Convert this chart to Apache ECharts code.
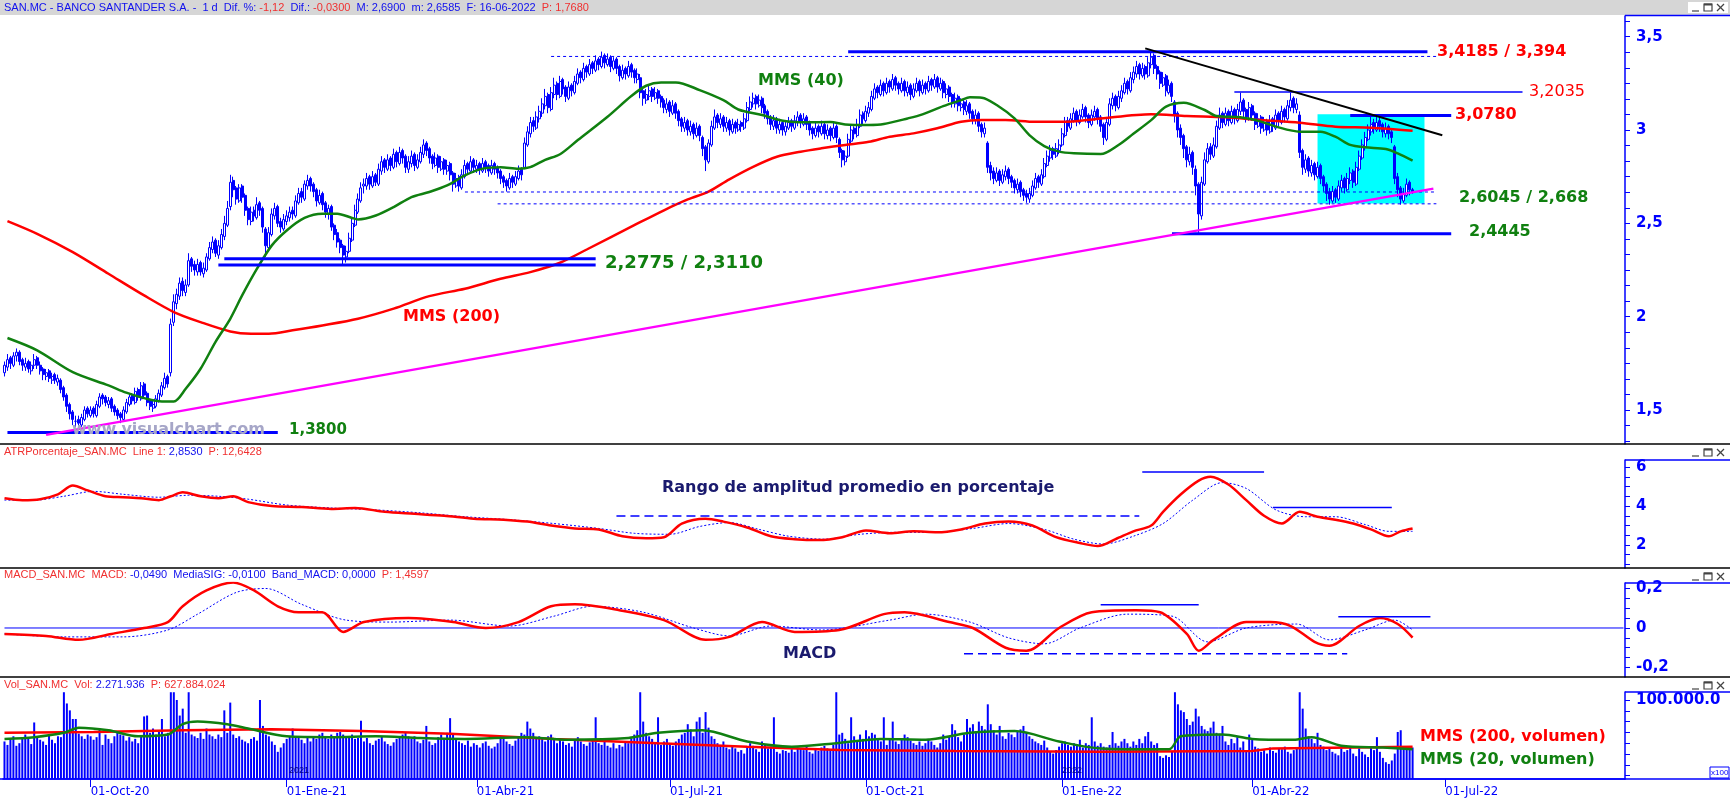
<!DOCTYPE html>
<html>
<head>
<meta charset="utf-8">
<script src="https://cdn.jsdelivr.net/npm/echarts@6/dist/echarts.min.js"></script>
<style>
  html, body { margin: 0; padding: 0; background: #fff; }
  #chart { width: 1730px; height: 799px; }
</style>
</head>
<body>
<div id="chart"></div>
<script>
// SAN.MC daily, 21-08-2020 .. 16-06-2022
// candles: [open, close, low, high], one row per trading day, grouped by month
const sanOHLC = [
  // ago-20
  [1.70,1.74,1.68,1.76],[1.73,1.77,1.71,1.80],[1.78,1.75,1.72,1.79],[1.74,1.79,1.73,1.81],[1.79,1.81,1.76,1.83],[1.81,1.76,1.74,1.82],[1.77,1.74,1.71,1.78],
  // sep-20
  [1.73,1.75,1.71,1.78],[1.76,1.72,1.70,1.77],[1.71,1.74,1.69,1.76],[1.74,1.77,1.72,1.80],[1.78,1.74,1.72,1.79],[1.74,1.71,1.69,1.76],[1.72,1.69,1.66,1.73],[1.68,1.70,1.66,1.72],[1.71,1.67,1.65,1.72],[1.66,1.68,1.64,1.70],[1.69,1.66,1.64,1.70],[1.65,1.67,1.63,1.69],[1.66,1.61,1.59,1.67],[1.62,1.57,1.55,1.63],[1.58,1.52,1.49,1.59],[1.53,1.48,1.45,1.54],[1.49,1.45,1.42,1.50],[1.44,1.44,1.41,1.47],[1.45,1.43,1.40,1.47],[1.42,1.46,1.41,1.48],[1.45,1.50,1.44,1.52],[1.51,1.48,1.46,1.52],
  // oct-20
  [1.47,1.50,1.46,1.52],[1.51,1.48,1.46,1.52],[1.47,1.53,1.46,1.55],[1.52,1.57,1.51,1.59],[1.58,1.56,1.53,1.59],[1.57,1.54,1.52,1.58],[1.53,1.55,1.51,1.57],[1.56,1.51,1.49,1.57],[1.52,1.49,1.47,1.53],[1.50,1.47,1.45,1.51],[1.48,1.46,1.43,1.49],[1.45,1.50,1.44,1.52],[1.49,1.54,1.48,1.56],[1.53,1.57,1.52,1.59],[1.58,1.55,1.53,1.59],[1.54,1.60,1.53,1.62],[1.61,1.57,1.55,1.62],[1.56,1.63,1.55,1.65],[1.64,1.58,1.56,1.65],[1.59,1.54,1.52,1.60],[1.55,1.52,1.50,1.56],[1.51,1.53,1.49,1.55],
  // nov-20
  [1.52,1.56,1.51,1.58],[1.55,1.59,1.54,1.61],[1.58,1.63,1.57,1.65],[1.62,1.67,1.61,1.70],[1.68,1.64,1.62,1.69],[1.70,1.96,1.68,1.99],[1.97,2.08,1.95,2.12],[2.07,2.12,2.04,2.15],[2.11,2.18,2.09,2.21],[2.19,2.14,2.11,2.21],[2.13,2.17,2.11,2.20],[2.17,2.30,2.16,2.34],[2.31,2.27,2.24,2.32],[2.28,2.25,2.22,2.30],[2.24,2.28,2.22,2.31],[2.29,2.24,2.22,2.30],[2.23,2.26,2.21,2.29],[2.25,2.32,2.24,2.34],[2.31,2.37,2.30,2.40],[2.36,2.40,2.34,2.43],[2.41,2.34,2.32,2.42],
  // dic-20
  [2.33,2.38,2.31,2.41],[2.37,2.44,2.36,2.47],[2.43,2.50,2.41,2.54],[2.49,2.58,2.48,2.62],[2.59,2.72,2.57,2.76],[2.73,2.68,2.64,2.75],[2.69,2.63,2.60,2.70],[2.62,2.69,2.61,2.71],[2.70,2.64,2.61,2.71],[2.65,2.57,2.54,2.66],[2.58,2.52,2.49,2.59],[2.51,2.56,2.49,2.59],[2.57,2.54,2.51,2.59],[2.53,2.60,2.52,2.64],[2.61,2.57,2.54,2.62],[2.58,2.48,2.45,2.59],[2.47,2.38,2.32,2.48],[2.37,2.45,2.36,2.48],[2.44,2.55,2.43,2.58],[2.54,2.58,2.52,2.61],[2.59,2.50,2.48,2.60],[2.51,2.48,2.45,2.53],[2.47,2.52,2.46,2.55],
  // ene-21
  [2.51,2.54,2.49,2.57],[2.53,2.56,2.51,2.59],[2.57,2.55,2.52,2.59],[2.54,2.62,2.53,2.65],[2.61,2.66,2.60,2.69],[2.67,2.64,2.61,2.69],[2.63,2.71,2.62,2.73],[2.70,2.73,2.68,2.76],[2.74,2.70,2.67,2.75],[2.71,2.67,2.64,2.72],[2.68,2.62,2.59,2.69],[2.61,2.65,2.60,2.68],[2.66,2.60,2.57,2.67],[2.61,2.56,2.53,2.62],[2.55,2.58,2.52,2.60],[2.59,2.48,2.46,2.60],[2.49,2.44,2.41,2.50],[2.45,2.40,2.37,2.47],[2.41,2.37,2.34,2.42],[2.38,2.33,2.28,2.39],[2.32,2.35,2.29,2.38],
  // feb-21
  [2.35,2.42,2.34,2.45],[2.41,2.50,2.40,2.53],[2.49,2.57,2.48,2.60],[2.56,2.63,2.55,2.66],[2.62,2.69,2.61,2.72],[2.70,2.71,2.66,2.74],[2.70,2.74,2.68,2.77],[2.75,2.71,2.68,2.76],[2.70,2.75,2.69,2.78],[2.76,2.72,2.70,2.77],[2.71,2.79,2.70,2.82],[2.78,2.83,2.76,2.86],[2.84,2.80,2.77,2.85],[2.79,2.84,2.78,2.87],[2.85,2.81,2.78,2.86],[2.80,2.87,2.79,2.90],[2.88,2.83,2.80,2.89],[2.82,2.88,2.81,2.91],[2.89,2.85,2.82,2.90],[2.86,2.80,2.77,2.87],
  // mar-21
  [2.79,2.83,2.77,2.86],[2.82,2.86,2.80,2.89],[2.87,2.81,2.78,2.88],[2.80,2.84,2.79,2.87],[2.83,2.88,2.82,2.91],[2.87,2.92,2.85,2.95],[2.93,2.89,2.86,2.94],[2.90,2.85,2.82,2.91],[2.86,2.82,2.79,2.87],[2.81,2.85,2.80,2.88],[2.86,2.80,2.77,2.87],[2.79,2.83,2.78,2.86],[2.84,2.79,2.76,2.85],[2.78,2.81,2.76,2.84],[2.82,2.76,2.73,2.83],[2.77,2.71,2.67,2.78],[2.70,2.74,2.69,2.77],[2.75,2.70,2.67,2.76],[2.69,2.76,2.68,2.79],[2.75,2.81,2.74,2.84],[2.82,2.79,2.76,2.83],[2.78,2.83,2.77,2.86],[2.84,2.80,2.77,2.85],
  // abr-21
  [2.79,2.81,2.77,2.84],[2.82,2.79,2.76,2.83],[2.78,2.82,2.77,2.85],[2.83,2.80,2.77,2.84],[2.81,2.78,2.75,2.82],[2.77,2.81,2.76,2.84],[2.82,2.79,2.76,2.83],[2.80,2.77,2.74,2.81],[2.78,2.74,2.71,2.79],[2.75,2.72,2.69,2.76],[2.73,2.70,2.67,2.74],[2.69,2.74,2.68,2.77],[2.75,2.72,2.69,2.76],[2.71,2.75,2.70,2.78],[2.74,2.78,2.73,2.81],[2.79,2.76,2.73,2.80],[2.80,2.93,2.79,2.96],[2.92,2.99,2.91,3.02],[2.98,3.04,2.96,3.07],[3.05,3.02,2.99,3.07],[3.01,3.07,3.00,3.10],[3.06,3.10,3.04,3.13],
  // may-21
  [3.09,3.14,3.07,3.17],[3.13,3.18,3.11,3.22],[3.19,3.12,3.09,3.20],[3.11,3.20,3.10,3.23],[3.19,3.24,3.17,3.28],[3.25,3.19,3.16,3.26],[3.18,3.26,3.17,3.29],[3.27,3.22,3.19,3.28],[3.23,3.18,3.15,3.24],[3.17,3.23,3.16,3.26],[3.24,3.21,3.18,3.25],[3.20,3.26,3.19,3.29],[3.25,3.30,3.24,3.33],[3.31,3.28,3.25,3.32],[3.27,3.33,3.26,3.36],[3.34,3.31,3.28,3.35],[3.30,3.35,3.29,3.38],[3.36,3.33,3.30,3.37],[3.32,3.37,3.31,3.40],[3.38,3.35,3.32,3.39],[3.34,3.39,3.33,3.42],
  // jun-21
  [3.40,3.36,3.33,3.41],[3.35,3.38,3.34,3.41],[3.39,3.34,3.31,3.40],[3.33,3.37,3.32,3.39],[3.38,3.33,3.30,3.39],[3.34,3.29,3.26,3.35],[3.28,3.32,3.27,3.35],[3.33,3.30,3.27,3.34],[3.29,3.34,3.28,3.37],[3.35,3.31,3.28,3.36],[3.32,3.28,3.25,3.33],[3.27,3.30,3.25,3.33],[3.28,3.20,3.17,3.30],[3.21,3.17,3.13,3.22],[3.16,3.19,3.14,3.22],[3.18,3.21,3.16,3.24],[3.22,3.18,3.15,3.23],[3.17,3.20,3.16,3.23],[3.21,3.17,3.14,3.22],[3.18,3.15,3.12,3.19],[3.16,3.12,3.09,3.17],[3.11,3.14,3.09,3.17],
  // jul-21
  [3.15,3.10,3.07,3.16],[3.09,3.13,3.08,3.16],[3.14,3.09,3.06,3.15],[3.10,3.05,3.02,3.11],[3.06,3.02,2.99,3.07],[3.01,3.04,2.99,3.07],[3.05,3.00,2.97,3.06],[2.99,3.02,2.97,3.05],[3.03,2.98,2.95,3.04],[2.97,3.01,2.96,3.04],[3.02,2.97,2.94,3.03],[2.96,2.90,2.86,2.97],[2.91,2.84,2.78,2.92],[2.83,2.93,2.82,2.95],[2.92,3.02,2.91,3.05],[3.01,3.07,3.00,3.11],[3.08,3.04,3.01,3.09],[3.03,3.06,3.01,3.09],[3.07,3.02,2.99,3.08],[3.01,3.04,2.99,3.07],[3.05,3.00,2.97,3.06],[2.99,3.03,2.98,3.06],
  // ago-21
  [3.04,3.01,2.98,3.05],[3.00,3.03,2.99,3.06],[3.04,3.02,2.99,3.05],[3.01,3.06,3.00,3.09],[3.05,3.12,3.04,3.15],[3.11,3.15,3.10,3.18],[3.14,3.17,3.12,3.20],[3.18,3.14,3.11,3.19],[3.13,3.16,3.12,3.19],[3.17,3.12,3.09,3.18],[3.13,3.09,3.06,3.14],[3.10,3.06,3.03,3.11],[3.07,3.03,3.00,3.08],[3.02,3.05,3.00,3.08],[3.06,3.01,2.98,3.07],[3.00,3.03,2.98,3.06],[3.04,3.00,2.97,3.05],[2.99,3.02,2.97,3.05],[3.01,3.04,3.00,3.07],[3.05,3.02,2.99,3.06],[3.01,3.05,3.00,3.08],[3.04,3.07,3.02,3.10],
  // sep-21
  [3.08,3.04,3.01,3.09],[3.03,3.06,3.02,3.09],[3.07,3.03,3.00,3.08],[3.04,3.00,2.97,3.05],[3.01,2.98,2.95,3.02],[2.97,3.01,2.96,3.04],[3.02,2.99,2.96,3.03],[2.98,3.02,2.97,3.05],[3.03,2.98,2.95,3.04],[2.97,3.00,2.95,3.03],[3.01,2.97,2.94,3.02],[2.96,3.01,2.95,3.04],[3.02,2.96,2.93,3.03],[2.95,2.88,2.85,2.96],[2.89,2.84,2.80,2.90],[2.83,2.86,2.81,2.89],[2.86,2.95,2.85,2.98],[2.94,3.00,2.93,3.03],[3.01,2.98,2.95,3.02],[2.97,3.03,2.96,3.06],[3.02,3.08,3.01,3.11],[3.09,3.06,3.03,3.10],
  // oct-21
  [3.05,3.10,3.04,3.13],[3.09,3.12,3.07,3.15],[3.11,3.18,3.10,3.21],[3.17,3.22,3.16,3.25],[3.23,3.20,3.17,3.24],[3.19,3.24,3.18,3.27],[3.25,3.21,3.18,3.26],[3.20,3.25,3.19,3.28],[3.26,3.23,3.20,3.27],[3.22,3.27,3.21,3.30],[3.28,3.24,3.21,3.29],[3.25,3.22,3.19,3.26],[3.21,3.25,3.20,3.28],[3.26,3.21,3.18,3.27],[3.20,3.23,3.18,3.26],[3.24,3.19,3.16,3.25],[3.18,3.22,3.17,3.25],[3.21,3.25,3.20,3.28],[3.26,3.21,3.18,3.27],[3.20,3.24,3.19,3.27],[3.25,3.22,3.19,3.26],
  // nov-21
  [3.21,3.26,3.20,3.29],[3.27,3.24,3.21,3.28],[3.23,3.27,3.22,3.30],[3.28,3.23,3.20,3.29],[3.22,3.25,3.21,3.28],[3.26,3.20,3.17,3.27],[3.19,3.22,3.17,3.25],[3.23,3.18,3.15,3.24],[3.19,3.15,3.12,3.20],[3.14,3.17,3.12,3.20],[3.18,3.13,3.10,3.19],[3.12,3.14,3.10,3.17],[3.15,3.11,3.08,3.16],[3.10,3.13,3.08,3.16],[3.14,3.09,3.06,3.15],[3.10,3.06,3.03,3.11],[3.05,3.08,3.03,3.11],[3.09,3.02,2.99,3.10],[3.03,2.99,2.96,3.04],[2.98,3.01,2.96,3.04],[2.93,2.80,2.77,2.94],[2.81,2.77,2.73,2.83],
  // dic-21
  [2.78,2.74,2.71,2.80],[2.73,2.77,2.72,2.80],[2.78,2.73,2.70,2.79],[2.72,2.76,2.71,2.79],[2.75,2.78,2.73,2.81],[2.79,2.74,2.71,2.80],[2.75,2.72,2.69,2.76],[2.73,2.69,2.66,2.74],[2.68,2.71,2.66,2.74],[2.72,2.67,2.64,2.73],[2.68,2.65,2.62,2.69],[2.66,2.64,2.61,2.68],[2.63,2.66,2.61,2.69],[2.65,2.70,2.64,2.73],[2.69,2.74,2.68,2.77],[2.75,2.72,2.69,2.76],[2.71,2.76,2.70,2.79],[2.75,2.82,2.74,2.85],[2.81,2.86,2.80,2.89],[2.85,2.89,2.83,2.92],[2.90,2.87,2.84,2.91],[2.86,2.90,2.85,2.93],[2.89,2.92,2.87,2.95],
  // ene-22
  [2.92,2.98,2.91,3.01],[2.97,3.04,2.96,3.07],[3.05,3.02,2.99,3.07],[3.01,3.06,3.00,3.09],[3.05,3.09,3.04,3.12],[3.10,3.05,3.02,3.11],[3.04,3.08,3.03,3.11],[3.07,3.11,3.06,3.14],[3.12,3.07,3.04,3.13],[3.08,3.04,3.01,3.09],[3.03,3.08,3.02,3.11],[3.07,3.10,3.05,3.13],[3.11,3.06,3.03,3.12],[3.07,3.02,2.99,3.08],[3.03,2.96,2.92,3.04],[2.95,3.04,2.94,3.07],[3.03,3.14,3.02,3.17],[3.13,3.17,3.11,3.20],[3.18,3.13,3.10,3.19],[3.12,3.18,3.11,3.21],[3.17,3.21,3.15,3.24],
  // feb-22
  [3.20,3.25,3.19,3.28],[3.26,3.22,3.19,3.27],[3.21,3.28,3.20,3.31],[3.27,3.31,3.25,3.34],[3.30,3.34,3.28,3.37],[3.35,3.30,3.27,3.36],[3.29,3.33,3.28,3.36],[3.34,3.30,3.27,3.35],[3.29,3.36,3.28,3.39],[3.35,3.39,3.33,3.42],[3.40,3.33,3.30,3.41],[3.34,3.30,3.27,3.35],[3.31,3.25,3.22,3.32],[3.24,3.28,3.23,3.31],[3.29,3.21,3.18,3.30],[3.20,3.24,3.19,3.27],[3.25,3.18,3.15,3.26],[3.15,3.08,3.04,3.16],[3.09,3.00,2.96,3.10],[3.01,2.96,2.92,3.03],
  // mar-22
  [2.97,2.90,2.85,2.98],[2.91,2.84,2.80,2.92],[2.83,2.87,2.81,2.91],[2.88,2.80,2.76,2.89],[2.79,2.70,2.65,2.81],[2.71,2.55,2.45,2.72],[2.54,2.72,2.52,2.75],[2.71,2.84,2.70,2.88],[2.83,2.90,2.82,2.93],[2.91,2.87,2.84,2.93],[2.86,2.92,2.85,2.96],[2.91,3.02,2.90,3.05],[3.01,3.08,3.00,3.12],[3.09,3.04,3.01,3.10],[3.03,3.09,3.02,3.12],[3.10,3.05,3.02,3.11],[3.04,3.10,3.03,3.13],[3.11,3.06,3.03,3.12],[3.05,3.11,3.04,3.14],[3.10,3.15,3.08,3.20],[3.16,3.10,3.07,3.17],[3.11,3.07,3.04,3.12],[3.06,3.12,3.05,3.15],
  // abr-22
  [3.13,3.08,3.05,3.14],[3.09,3.03,3.00,3.10],[3.02,3.06,3.01,3.09],[3.07,3.01,2.98,3.08],[3.00,3.04,2.99,3.07],[3.05,3.00,2.97,3.06],[2.99,3.05,2.98,3.08],[3.06,3.02,2.99,3.07],[3.01,3.08,3.00,3.11],[3.09,3.05,3.02,3.10],[3.04,3.10,3.03,3.13],[3.11,3.07,3.04,3.12],[3.06,3.13,3.05,3.16],[3.12,3.16,3.10,3.20],[3.17,3.12,3.09,3.18],[3.11,3.14,3.09,3.17],[3.08,2.88,2.85,3.10],[2.89,2.80,2.76,2.90],[2.79,2.84,2.77,2.87],[2.85,2.78,2.75,2.86],[2.77,2.81,2.75,2.84],
  // may-22
  [2.82,2.76,2.73,2.83],[2.75,2.80,2.74,2.83],[2.81,2.74,2.71,2.82],[2.75,2.70,2.67,2.76],[2.71,2.66,2.62,2.72],[2.67,2.63,2.60,2.69],[2.62,2.67,2.61,2.70],[2.68,2.64,2.61,2.69],[2.63,2.70,2.62,2.73],[2.69,2.73,2.67,2.76],[2.74,2.69,2.66,2.75],[2.68,2.74,2.67,2.77],[2.73,2.77,2.71,2.80],[2.78,2.72,2.69,2.79],[2.71,2.80,2.70,2.83],[2.79,2.86,2.78,2.89],[2.85,2.92,2.84,2.95],[2.91,2.96,2.89,2.99],[2.95,3.00,2.94,3.03],[2.99,3.03,2.97,3.07],[3.04,3.01,2.98,3.06],[3.00,3.04,2.99,3.08],
  // jun-22
  [3.05,3.02,2.99,3.07],[3.03,2.99,2.96,3.04],[2.98,3.01,2.96,3.04],[3.02,2.98,2.95,3.03],[2.99,2.96,2.93,3.00],[2.91,2.74,2.71,2.92],[2.75,2.68,2.64,2.77],[2.69,2.63,2.60,2.70],[2.62,2.66,2.61,2.69],[2.65,2.71,2.64,2.74],[2.72,2.68,2.65,2.73],[2.68,2.665,2.6585,2.69]
];

// volume, in units of the right scale (label 100.000.0), same days
const sanVolume = [
  52,48,55,58,47,50,56,
  60,55,49,74,58,54,52,48,60,54,50,58,57,109,96,88,78,78,61,58,55,60,
  58,54,57,67,48,60,55,50,58,62,60,59,53,57,52,55,50,58,81,82,62,67,
  60,63,78,58,62,109,109,100,82,90,62,109,60,58,56,62,55,67,60,58,55,
  60,57,88,62,97,60,56,58,54,52,50,55,57,53,100,70,60,58,52,48,40,45,50,
  55,58,67,56,57,54,50,56,52,58,55,60,62,58,55,60,57,62,63,60,58,
  58,60,55,56,76,52,56,50,48,53,55,58,52,49,47,51,55,58,60,62,
  58,55,58,52,50,54,70,52,48,50,57,60,56,62,79,60,55,52,50,48,53,46,50,
  48,45,50,52,47,44,46,50,55,58,52,49,47,53,58,62,60,75,67,62,56,58,
  55,52,58,60,54,50,56,52,48,50,46,53,57,52,49,47,51,55,80,50,48,
  52,47,45,50,44,48,46,52,50,55,60,65,109,75,62,58,55,50,80,48,52,55,
  50,47,52,55,60,62,72,66,58,75,80,62,86,68,58,55,50,48,52,45,43,46,
  44,40,42,38,45,50,47,43,40,52,48,44,46,80,40,38,42,41,39,43,40,45,
  44,42,46,40,38,43,41,45,47,44,42,48,109,60,62,55,50,80,58,52,60,55,
  65,58,62,60,55,52,80,48,54,75,52,49,55,60,57,53,50,48,52,47,50,
  55,52,48,45,50,60,54,58,72,65,57,52,60,78,68,72,64,75,70,66,95,72,
  65,60,70,58,55,62,60,57,64,66,70,62,58,55,52,50,48,53,45,40,38,42,46,
  50,52,48,46,50,47,54,45,50,48,80,52,47,50,46,45,48,63,50,47,52,
  55,50,46,52,48,55,50,58,63,52,48,50,35,33,36,34,40,109,95,88,
  86,78,71,75,90,81,70,66,64,68,75,62,61,70,52,48,55,50,57,45,52,42,60,
  55,46,44,40,42,38,45,41,39,44,43,46,40,38,42,45,109,90,67,58,55,
  50,62,48,46,42,45,40,38,36,44,40,42,46,38,35,44,40,37,34,45,42,57,
  40,33,28,26,30,38,63,65,46,44,43,45
];

// indicator readings: [trading-day index, value]
const mms40 = [[1,1.886],[11,1.82],[23,1.703],[35,1.632],[41,1.593],[47,1.564],[53,1.546],[57,1.546],[61,1.614],[66,1.721],[71,1.864],[76,1.989],[80,2.114],[85,2.257],[90,2.382],[95,2.462],[101,2.529],[107,2.552],[112,2.552],[117,2.529],[119,2.521],[125,2.542],[131,2.587],[137,2.641],[143,2.668],[149,2.703],[155,2.757],[161,2.793],[167,2.801],[173,2.793],[177,2.801],[182,2.84],[187,2.87],[193,2.946],[203,3.071],[211,3.182],[216,3.237],[221,3.255],[226,3.255],[234,3.214],[242,3.16],[247,3.11],[255,3.08],[262,3.05],[270,3.041],[278,3.043],[283,3.03],[291,3.027],[296,3.032],[304,3.062],[309,3.084],[316,3.128],[322,3.16],[325,3.175],[329,3.173],[334,3.134],[340,3.062],[345,2.973],[350,2.914],[355,2.884],[360,2.875],[369,2.871],[375,2.92],[380,2.98],[386,3.053],[391,3.125],[397,3.146],[404,3.107],[408,3.075],[416,3.068],[423,3.045],[428,3.018],[436,2.991],[443,2.991],[448,2.964],[453,2.92],[458,2.907],[465,2.898],[469,2.875],[474,2.836]];
const mms200 = [[1,2.512],[11,2.444],[23,2.346],[35,2.23],[47,2.114],[57,2.025],[66,1.971],[76,1.921],[83,1.909],[89,1.909],[97,1.927],[107,1.953],[119,1.989],[131,2.043],[143,2.11],[155,2.15],[167,2.203],[177,2.239],[187,2.289],[196,2.36],[212,2.49],[222,2.57],[230,2.628],[237,2.67],[244,2.736],[252,2.803],[260,2.857],[268,2.884],[275,2.902],[283,2.92],[291,2.937],[298,2.964],[306,2.982],[314,3.009],[322,3.044],[329,3.053],[337,3.053],[347,3.044],[358,3.044],[369,3.062],[386,3.085],[398,3.075],[411,3.068],[423,3.053],[436,3.039],[448,3.018],[460,3.012],[474,2.996]];

const atrLine = [[0,4.4],[6,4.3],[12,4.35],[18,4.6],[23,5.05],[28,4.8],[34,4.5],[40,4.45],[46,4.4],[52,4.3],[56,4.5],[60,4.7],[66,4.5],[72,4.4],[77,4.5],[82,4.2],[90,4.0],[100,3.95],[110,3.85],[118,3.9],[128,3.7],[138,3.6],[148,3.5],[158,3.35],[168,3.3],[176,3.2],[184,3.0],[192,2.85],[200,2.8],[208,2.45],[216,2.35],[222,2.4],[228,3.1],[236,3.35],[242,3.2],[250,2.9],[258,2.45],[266,2.3],[274,2.25],[282,2.4],[290,2.75],[298,2.6],[306,2.7],[314,2.65],[322,2.8],[330,3.1],[338,3.2],[346,3.0],[354,2.4],[362,2.1],[368,1.95],[374,2.3],[380,2.7],[386,3.0],[390,3.7],[396,4.6],[402,5.3],[406,5.5],[412,5.1],[418,4.3],[424,3.5],[430,3.1],[436,3.7],[442,3.45],[448,3.3],[454,3.1],[460,2.8],[466,2.45],[470,2.7],[474,2.85]];
const atrSignal = [[0,4.3],[10,4.3],[20,4.5],[30,4.75],[40,4.6],[52,4.45],[62,4.55],[72,4.5],[82,4.35],[95,4.05],[110,3.9],[125,3.8],[140,3.65],[155,3.45],[170,3.3],[185,3.1],[200,2.85],[212,2.6],[224,2.55],[234,2.95],[244,3.15],[254,2.8],[264,2.45],[276,2.3],[288,2.55],[300,2.65],[312,2.65],[326,2.85],[338,3.1],[350,2.8],[360,2.3],[370,2.05],[380,2.45],[390,3.1],[400,4.3],[410,5.2],[418,4.9],[428,3.8],[438,3.45],[448,3.45],[458,3.05],[466,2.7],[474,2.7]];

const macdLine = [[0,-0.03],[14,-0.04],[25,-0.06],[36,-0.03],[47,0.0],[55,0.03],[60,0.11],[68,0.19],[77,0.23],[84,0.19],[92,0.11],[99,0.08],[107,0.08],[114,-0.02],[121,0.03],[136,0.05],[151,0.03],[162,0.0],[173,0.03],[184,0.11],[192,0.12],[207,0.09],[222,0.04],[236,-0.06],[244,-0.045],[255,0.03],[266,-0.02],[281,-0.01],[296,0.07],[303,0.08],[318,0.03],[326,0.0],[337,-0.10],[344,-0.115],[355,0.0],[366,0.08],[381,0.09],[389,0.08],[398,-0.03],[402,-0.115],[407,-0.06],[418,0.03],[426,0.03],[433,0.01],[441,-0.07],[446,-0.09],[456,0.01],[463,0.05],[469,0.02],[474,-0.049]];
const macdSignal = [[0,-0.03],[20,-0.045],[40,-0.045],[55,-0.01],[65,0.07],[78,0.18],[88,0.2],[100,0.12],[115,0.04],[130,0.03],[150,0.04],[170,0.01],[185,0.06],[198,0.11],[215,0.08],[232,0.0],[244,-0.04],[258,0.01],[275,-0.01],[298,0.04],[310,0.07],[325,0.03],[338,-0.05],[350,-0.08],[362,0.0],[378,0.07],[393,0.06],[405,-0.07],[418,0.0],[435,0.02],[446,-0.06],[458,-0.01],[468,0.04],[474,-0.01]];

const volMMS200 = [[0,62],[30,63],[60,65],[90,66],[120,64],[150,61],[185,55],[220,50],[250,46],[281,42],[320,41],[369,40],[420,41],[427,44],[474,46]];
const volMMS20 = [[0,55],[10,57],[20,62],[25,68],[35,65],[45,58],[55,60],[60,72],[65,75],[75,72],[82,67],[95,58],[110,57],[125,58],[140,56],[155,55],[175,57],[190,54],[210,56],[220,62],[235,65],[250,52],[265,46],[280,50],[295,55],[310,54],[325,62],[340,64],[355,52],[369,44],[392,43],[396,58],[410,60],[420,55],[434,54],[440,57],[450,47],[464,45],[474,43]];

// drawn levels: [fromIndex, toIndex, value]
const thickLevels = [[1,92,1.38],[72,199,2.2775],[74,199,2.311],[284,479,3.4185],[453,487,3.078],[393,487,2.4445]];
const thinLevels = [[414,511,3.2035]];
const dottedLevels = [[184,482,3.394],[155,482,2.668],[166,482,2.6045]];
const resistanceLine = [[384,3.437],[484.3,2.972]];
const supportLine = [[14,1.367],[481.3,2.686]];
const consolidationBox = [[442,3.084],[477.5,2.607]];

const atrDashed = [[206,382,3.49]];
const atrSolid = [[383,424,5.74],[427,467,3.92]];
const macdDashed = [[323,452,-0.13]];
const macdSolid = [[369,402,0.118],[449,480,0.057]];

const priceTicks = [1.5, 2, 2.5, 3, 3.5];
const atrTicks = [2, 4, 6];
const macdTicks = [-0.2, 0, 0.2];
const volTicks = [100];
const meses = ['Ene','Feb','Mar','Abr','May','Jun','Jul','Ago','Sep','Oct','Nov','Dic'];

// trading days (weekdays) from the first candle, plus empty days to the right edge
const slots = 546;
const days = [];
for (let d = new Date(Date.UTC(2020, 7, 21)); days.length < slots; d.setUTCDate(d.getUTCDate() + 1)) {
  const w = d.getUTCDay();
  if (w !== 0 && w !== 6) days.push(new Date(d.getTime()));
}
const cats = days.map(d => d.toISOString().slice(0, 10));
const quarterStart = (i) => {
  const m = days[i].getUTCMonth();
  if (m % 3 !== 0) return false;
  return i > 0 && days[i - 1].getUTCMonth() !== m;
};

const BLUE = '#0000ff';
const RED = '#ff0000';
const GREEN = '#108010';
const NAVY = '#1a1a6e';
const BIG = 'DejaVu Sans';

function minorTicks(from, to, step) {
  const out = [];
  for (let v = from; v <= to + 1e-9; v += step) out.push(+v.toFixed(6));
  return out;
}
const comma = v => String(v).replace('.', ',');

function yAx(grid, min, max, ticks, labels, fmt) {
  return {
    type: 'value', gridIndex: grid, position: 'right', min: min, max: max,
    splitLine: { show: false },
    axisLine: { show: true, lineStyle: { color: BLUE, width: 1.5 } },
    axisTick: { show: true, length: 5, customValues: ticks, lineStyle: { color: BLUE, width: 1 } },
    axisLabel: { customValues: labels, formatter: fmt, color: BLUE, fontFamily: BIG, fontWeight: 'bold', fontSize: 15, margin: 11 }
  };
}

function seg(list, grid, style, z) {
  return list.map(s => ({
    type: 'line', xAxisIndex: grid, yAxisIndex: grid, symbol: 'none', silent: true, z: z || 6,
    data: [[s[0], s[2]], [s[1], s[2]]], lineStyle: style
  }));
}

const chart = echarts.init(document.getElementById('chart'), null, { renderer: 'canvas' });

const grids = [
  { left: 3, right: 105, top: 16, height: 428 },
  { left: 3, right: 105, top: 460, height: 108 },
  { left: 3, right: 105, top: 583, height: 94 },
  { left: 3, right: 105, top: 692, height: 87 }
];

const xAxes = grids.map((g, i) => ({
  type: 'category', gridIndex: i, data: cats, boundaryGap: true, show: i === 3,
  axisLine: { show: true, lineStyle: { color: BLUE, width: 1.5 } },
  axisTick: { show: true, interval: quarterStart, alignWithLabel: true, length: 8, lineStyle: { color: BLUE } },
  axisLabel: {
    interval: quarterStart, align: 'left', margin: 6, color: BLUE, fontSize: 13,
    fontFamily: "'Liberation Sans Narrow', 'DejaVu Sans Condensed', 'Liberation Sans'",
    formatter: (v) => { const d = new Date(v + 'T00:00:00Z'); return '01-' + meses[d.getUTCMonth()] + '-' + String(d.getUTCFullYear()).slice(2); }
  },
  splitLine: { show: false }
}));

const yAxes = [
  yAx(0, 1.3182, 3.6106, minorTicks(16 / 12, 43 / 12, 1 / 12), priceTicks, comma),
  yAx(1, 0.8205, 6.359, minorTicks(1, 6, 0.5), atrTicks, comma),
  yAx(2, -0.2481, 0.2278, minorTicks(-0.2, 0.2, 0.05), macdTicks, comma),
  yAx(3, 8.56, 109.26, minorTicks(12.5, 100, 12.5), volTicks, () => '100.000.0')
];

const series = [
  { type: 'line', xAxisIndex: 0, yAxisIndex: 0, data: [], z: 1, silent: true,
    markArea: { silent: true, itemStyle: { color: '#00ffff' },
      data: [[{ coord: consolidationBox[0] }, { coord: consolidationBox[1] }]] } },
  { type: 'candlestick', xAxisIndex: 0, yAxisIndex: 0, data: sanOHLC, barWidth: 2.5, z: 3,
    itemStyle: { color: '#ffffff', color0: BLUE, borderColor: BLUE, borderColor0: BLUE, borderWidth: 1 } },
  { type: 'line', xAxisIndex: 0, yAxisIndex: 0, data: mms200, symbol: 'none', smooth: 0.3, z: 4, lineStyle: { color: RED, width: 2.5 } },
  { type: 'line', xAxisIndex: 0, yAxisIndex: 0, data: mms40, symbol: 'none', smooth: 0.3, z: 4, lineStyle: { color: GREEN, width: 2.5 } },
  ...seg(thickLevels, 0, { color: BLUE, width: 3 }),
  ...seg(thinLevels, 0, { color: BLUE, width: 1.5 }),
  ...seg(dottedLevels, 0, { color: BLUE, width: 1, type: [3, 3] }),
  { type: 'line', xAxisIndex: 0, yAxisIndex: 0, data: resistanceLine, symbol: 'none', z: 6, lineStyle: { color: '#000', width: 2 } },
  { type: 'line', xAxisIndex: 0, yAxisIndex: 0, data: supportLine, symbol: 'none', z: 6, lineStyle: { color: '#ff00ff', width: 2.5 } },

  { type: 'line', xAxisIndex: 1, yAxisIndex: 1, data: atrSignal, symbol: 'none', smooth: 0.3, z: 4, lineStyle: { color: BLUE, width: 1, type: [2, 2] } },
  { type: 'line', xAxisIndex: 1, yAxisIndex: 1, data: atrLine, symbol: 'none', smooth: 0.3, z: 5, lineStyle: { color: RED, width: 2.5 } },
  ...seg(atrDashed, 1, { color: BLUE, width: 1.5, type: [9, 5] }),
  ...seg(atrSolid, 1, { color: BLUE, width: 1.5 }),

  ...seg([[0, 545, 0]], 2, { color: BLUE, width: 1 }, 2),
  { type: 'line', xAxisIndex: 2, yAxisIndex: 2, data: macdSignal, symbol: 'none', smooth: 0.3, z: 4, lineStyle: { color: BLUE, width: 1, type: [2, 2] } },
  { type: 'line', xAxisIndex: 2, yAxisIndex: 2, data: macdLine, symbol: 'none', smooth: 0.3, z: 5, lineStyle: { color: RED, width: 2.5 } },
  ...seg(macdDashed, 2, { color: BLUE, width: 1.5, type: [9, 5] }),
  ...seg(macdSolid, 2, { color: BLUE, width: 1.5 }),

  { type: 'bar', xAxisIndex: 3, yAxisIndex: 3, data: sanVolume, barWidth: 2, itemStyle: { color: BLUE }, z: 2 },
  { type: 'line', xAxisIndex: 3, yAxisIndex: 3, data: volMMS200, symbol: 'none', z: 4, lineStyle: { color: RED, width: 2.5 } },
  { type: 'line', xAxisIndex: 3, yAxisIndex: 3, data: volMMS20, symbol: 'none', smooth: 0.3, z: 5, lineStyle: { color: GREEN, width: 2.5 } }
];

function buttons(y) {
  return [
    { type: 'rect', shape: { x: 1688, y: y, width: 40, height: 11 }, style: { fill: '#ffffff' }, z: 20 },
    { type: 'line', shape: { x1: 1692, y1: y + 9, x2: 1699, y2: y + 9 }, style: { stroke: '#444', lineWidth: 1.2 }, z: 21 },
    { type: 'rect', shape: { x: 1704, y: y + 2, width: 8, height: 7 }, style: { fill: 'none', stroke: '#444', lineWidth: 1.2 }, z: 21 },
    { type: 'line', shape: { x1: 1704, y1: y + 2.5, x2: 1712, y2: y + 2.5 }, style: { stroke: '#444', lineWidth: 2 }, z: 21 },
    { type: 'line', shape: { x1: 1717, y1: y + 2, x2: 1724, y2: y + 9 }, style: { stroke: '#444', lineWidth: 1.2 }, z: 21 },
    { type: 'line', shape: { x1: 1724, y1: y + 2, x2: 1717, y2: y + 9 }, style: { stroke: '#444', lineWidth: 1.2 }, z: 21 }
  ];
}
function hline(y, x1, x2, color, w) {
  return { type: 'line', shape: { x1: x1, y1: y, x2: x2, y2: y }, style: { stroke: color, lineWidth: w }, z: 15 };
}
function label(x, y, text, color, size, weight) {
  return { type: 'text', x: x, y: y, z: 30, style: { text: text, fill: color, font: (weight || 'bold') + ' ' + size + 'px ' + BIG, textVerticalAlign: 'middle' } };
}
const small = "11px 'Liberation Sans'";
function header(x, y, parts) {
  return { type: 'text', x: x, y: y, z: 30, style: {
    text: parts.map(p => '{' + p[0] + '|' + p[1] + '}').join(''),
    rich: { b: { fill: '#1010ee', font: small }, r: { fill: '#f03030', font: small } },
    textVerticalAlign: 'middle' } };
}

const graphic = [
  { type: 'rect', shape: { x: 0, y: 0, width: 1730, height: 15 }, style: { fill: '#d6d6d6' }, z: 10 },
  header(4, 8, [['b', 'SAN.MC - BANCO SANTANDER S.A. -  1 d  Dif. %: '], ['r', '-1,12'], ['b', '  Dif.: '], ['r', '-0,0300'], ['b', '  M: 2,6900  m: 2,6585  F: 16-06-2022  '], ['r', 'P: 1,7680']]),
  ...buttons(2),
  hline(15.5, 1625, 1730, BLUE, 1.5),
  hline(444, 0, 1730, '#000', 1.5),
  hline(568, 0, 1730, '#000', 1.5),
  hline(677, 0, 1730, '#000', 1.5),
  hline(460, 1625, 1730, BLUE, 1.5),
  hline(583, 1625, 1730, BLUE, 1.5),
  hline(692, 1625, 1730, BLUE, 1.5),
  hline(779, 0, 1730, BLUE, 1.5),
  ...buttons(447),
  ...buttons(571),
  ...buttons(680),
  header(4, 452, [['r', 'ATRPorcentaje_SAN.MC  Line 1: '], ['b', '2,8530'], ['r', '  P: 12,6428']]),
  header(4, 575, [['r', 'MACD_SAN.MC  MACD: '], ['b', '-0,0490  MediaSIG: -0,0100  Band_MACD: 0,0000'], ['r', '  P: 1,4597']]),
  header(4, 685, [['r', 'Vol_SAN.MC  Vol: '], ['b', '2.271.936'], ['r', '  P: 627.884.024']]),
  { type: 'rect', shape: { x: 1710, y: 767, width: 19, height: 11 }, style: { fill: '#fff', stroke: BLUE, lineWidth: 1 }, z: 20 },
  { type: 'text', x: 1711, y: 773, z: 21, style: { text: 'x100', fill: BLUE, font: "8px 'Liberation Sans'", textVerticalAlign: 'middle' } },
  { type: 'text', x: 289, y: 771, z: 21, style: { text: '2021', fill: '#000080', font: "9px 'Liberation Sans'", textVerticalAlign: 'middle' } },
  { type: 'text', x: 1062, y: 771, z: 21, style: { text: '2022', fill: '#000080', font: "9px 'Liberation Sans'", textVerticalAlign: 'middle' } },

  label(1437, 52, '3,4185 / 3,394', RED, 16),
  label(1529, 92, '3,2035', RED, 16, 'normal'),
  label(1455, 115, '3,0780', RED, 16),
  label(1459, 198, '2,6045 / 2,668', GREEN, 16),
  label(1469, 232, '2,4445', GREEN, 16),
  label(758, 81, 'MMS (40)', GREEN, 16),
  label(403, 317, 'MMS (200)', RED, 16),
  label(605, 263, '2,2775 / 2,3110', GREEN, 18),
  label(289, 430, '1,3800', GREEN, 15),
  label(72, 430, 'www.visualchart.com', '#a6a6c8', 16),
  label(662, 488, 'Rango de amplitud promedio en porcentaje', NAVY, 16),
  label(783, 654, 'MACD', NAVY, 16),
  label(1420, 737, 'MMS (200, volumen)', RED, 16),
  label(1420, 760, 'MMS (20, volumen)', GREEN, 16)
];

chart.setOption({
  animation: false,
  backgroundColor: '#ffffff',
  grid: grids,
  xAxis: xAxes,
  yAxis: yAxes,
  series: series,
  graphic: graphic
});
</script>
</body>
</html>
